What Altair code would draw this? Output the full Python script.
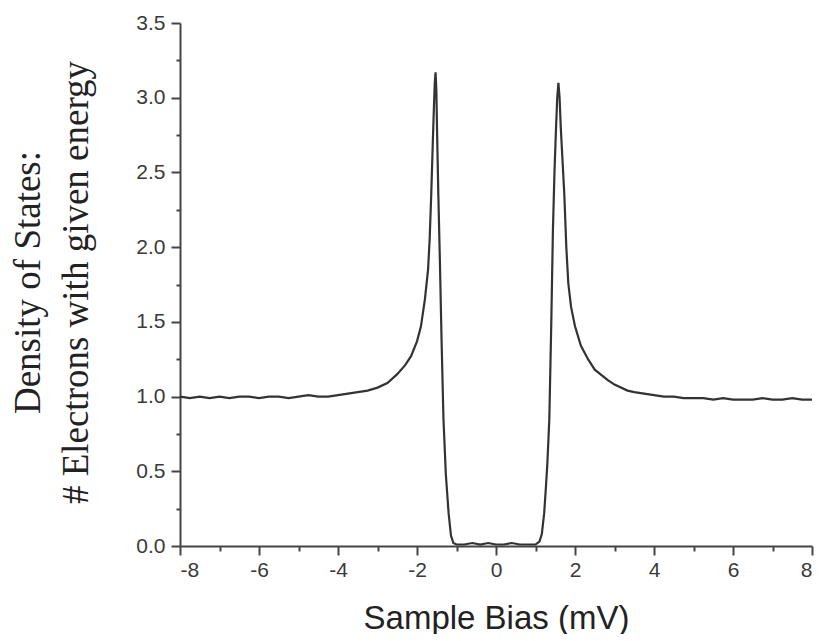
import altair as alt
import pandas as pd

# Sample bias (mV) and normalised density of states
bias = [
    -8.0, -7.75, -7.5, -7.25, -7.0, -6.75, -6.5, -6.25, -6.0, -5.75, -5.5, -5.25,
    -5.0, -4.75, -4.5, -4.25, -4.0, -3.75, -3.5, -3.25, -3.0, -2.75, -2.5, -2.3,
    -2.15, -2.0, -1.9, -1.8, -1.72, -1.68, -1.64, -1.6, -1.57, -1.55, -1.53, -1.51,
    -1.49, -1.46, -1.42, -1.38, -1.33, -1.27, -1.2, -1.14, -1.08, -1.0, -0.8, -0.6,
    -0.4, -0.2, 0.0, 0.2, 0.4, 0.6, 0.8, 1.0, 1.1, 1.16, 1.22, 1.26, 1.30, 1.35,
    1.40, 1.44, 1.48, 1.52, 1.55, 1.58, 1.61, 1.64, 1.68, 1.73, 1.78, 1.83, 1.9,
    2.0, 2.15, 2.33, 2.5, 2.83, 3.0, 3.33, 3.5, 3.75, 4.0, 4.25, 4.5, 4.75, 5.0,
    5.25, 5.5, 5.75, 6.0, 6.25, 6.5, 6.75, 7.0, 7.25, 7.5, 7.75, 8.0,
]
dos = [
    1.00, 0.99, 1.00, 0.99, 1.00, 0.99, 1.00, 1.00, 0.99, 1.00, 1.00, 0.99,
    1.00, 1.01, 1.00, 1.00, 1.01, 1.02, 1.03, 1.04, 1.06, 1.09, 1.15, 1.21,
    1.27, 1.37, 1.47, 1.65, 1.85, 2.05, 2.35, 2.70, 2.95, 3.10, 3.17, 3.05,
    2.75, 2.35, 1.90, 1.40, 0.85, 0.48, 0.22, 0.07, 0.02, 0.01, 0.01, 0.02,
    0.01, 0.02, 0.01, 0.01, 0.02, 0.01, 0.01, 0.01, 0.03, 0.08, 0.22, 0.38, 0.55, 0.85,
    1.50, 2.10, 2.50, 2.80, 3.00, 3.10, 3.00, 2.80, 2.60, 2.35, 2.00, 1.76, 1.60,
    1.47, 1.34, 1.25, 1.18, 1.11, 1.08, 1.04, 1.03, 1.02, 1.01, 1.00, 1.00, 0.99, 0.99,
    0.99, 0.98, 0.99, 0.98, 0.98, 0.98, 0.99, 0.98, 0.98, 0.99, 0.98, 0.98,
]

x_major = [-8, -6, -4, -2, 0, 2, 4, 6, 8]
x_minor = [-7, -5, -3, -1, 1, 3, 5, 7]
y_major = [0.0, 0.5, 1.0, 1.5, 2.0, 2.5, 3.0, 3.5]
y_minor = [0.25, 0.75, 1.25, 1.75, 2.25, 2.75, 3.25]

df = pd.DataFrame({"bias": bias, "dos": dos})

AX = "#444444"
xs = alt.Scale(domain=[-8, 8], nice=False, zero=False)
ys = alt.Scale(domain=[0, 3.5], nice=False, zero=False)

main = alt.Chart(df).mark_line(color="#333333", strokeWidth=2.2).encode(
    x=alt.X("bias:Q", scale=xs, axis=alt.Axis(
        orient="bottom", values=x_major, title="Sample Bias (mV)",
        grid=False, domainColor=AX, domainWidth=2, tickColor=AX, tickWidth=2,
        tickSize=9, labelFont="Liberation Sans", labelFontSize=21,
        labelColor="#3a3a3a", labelPadding=4,
        labelExpr="replace(format(datum.value, 'd'), '\u2212', '-')",
        titleFont="Liberation Sans", titleFontSize=33, titleFontWeight="normal",
        titleColor="#222222", titleBaseline="alphabetic", titleY=82,
    )),
    y=alt.Y("dos:Q", scale=ys, axis=alt.Axis(
        orient="left", values=y_major,
        title=["Density of States:", "# Electrons with given energy"],
        grid=False, domainColor=AX, domainWidth=2, tickColor=AX, tickWidth=2,
        tickSize=9, labelFont="Liberation Sans", labelFontSize=21,
        labelColor="#3a3a3a", labelPadding=6, format=".1f",
        titleFont="Liberation Serif", titleFontSize=37, titleFontWeight="normal",
        titleColor="#222222", titleBaseline="top", titleAlign="center",
        titleAngle=-90, titleX=-170, titleY=259, titleLineHeight=48,
    )),
)

minor_x = alt.Chart(pd.DataFrame({"v": x_minor})).mark_point(opacity=0).encode(
    x=alt.X("v:Q", scale=xs, axis=alt.Axis(
        orient="bottom", values=x_minor, labels=False, title=None, grid=False,
        domain=False, tickColor=AX, tickWidth=2, tickSize=5,
    )),
)
minor_y = alt.Chart(pd.DataFrame({"v": y_minor})).mark_point(opacity=0).encode(
    y=alt.Y("v:Q", scale=ys, axis=alt.Axis(
        orient="left", values=y_minor, labels=False, title=None, grid=False,
        domain=False, tickColor=AX, tickWidth=2, tickSize=4,
    )),
)

chart = alt.layer(main, minor_x, minor_y).resolve_axis(
    x="independent", y="independent"
).properties(
    width=632, height=523,
    autosize=alt.AutoSizeParams(type="none"),
    padding={"left": 172, "top": 15, "right": 6, "bottom": 88},
).configure_view(stroke=None)

chart.save("out.html", embed_options={"renderer": "svg", "actions": False})
